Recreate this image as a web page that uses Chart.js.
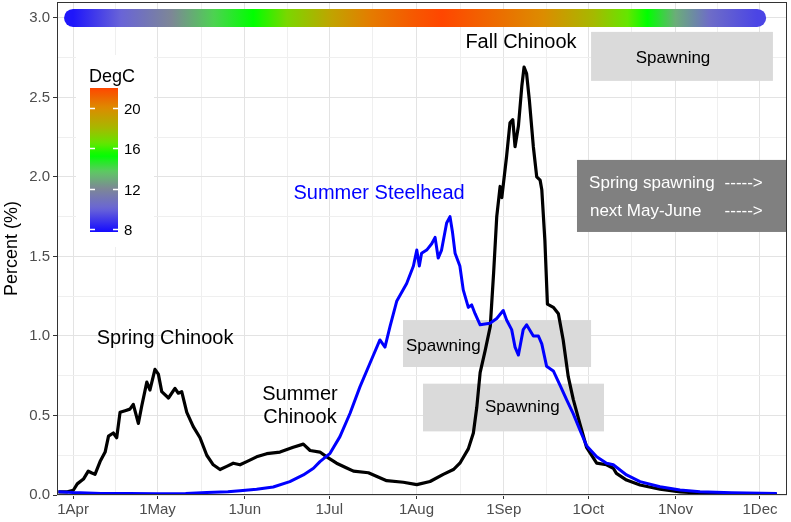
<!DOCTYPE html>
<html>
<head>
<meta charset="utf-8">
<script src="https://cdn.jsdelivr.net/npm/chart.js@4.4.0/dist/chart.umd.min.js"></script>
<style>
html,body{margin:0;padding:0;background:#ffffff;}
#wrap{width:791px;height:522px;}
</style>
</head>
<body>
<div id="wrap"><canvas id="c" width="791" height="522"></canvas></div>
<script>
// ---- tick labels (x = days since 1 April) ----
const monthDay   = [0, 30, 61, 91, 122, 153, 183, 214, 244];
const monthLabel = ['1Apr','1May','1Jun','1Jul','1Aug','1Sep','1Oct','1Nov','1Dec'];
const yTickValues = [0, 0.5, 1.0, 1.5, 2.0, 2.5, 3.0];

// ---- Chinook passage (%), black line ----
const chinookDay = [-5.2,-2,0.1,1.5,3.7,5.4,6.5,7.8,9.6,11.4,12.6,14.3,15.5,16.7,18.5,20.2,21.4,23.2,24.4,26.2,27.3,29.1,30.3,31.5,33.9,36.2,37.4,38.6,40.4,42.7,45.1,47.5,49.8,52.2,54.6,56.9,59.3,61.7,65.2,68.8,73.5,78.2,81.8,84.2,87.7,90.1,93.6,97.2,99.6,104.9,111.4,117.3,122.1,126.8,131.5,135.1,137.4,140.4,142.2,143.4,144.6,146.4,148.2,149.4,150.5,151.7,152.3,154,155.2,156.2,157,158.2,159.4,160.2,161.1,162.1,163.5,164.7,165.9,166.5,167.6,168.5,170.6,172.4,174.1,175.9,177.7,180,182.4,186,189.5,191.9,193,196.6,201.4,208.5,215.6,225,240,250];
const chinookPct = [0.02,0.02,0.03,0.07,0.10,0.15,0.14,0.13,0.21,0.27,0.37,0.39,0.36,0.52,0.53,0.54,0.57,0.45,0.56,0.71,0.66,0.79,0.76,0.65,0.61,0.67,0.64,0.65,0.52,0.43,0.36,0.25,0.19,0.16,0.18,0.20,0.19,0.21,0.24,0.26,0.27,0.30,0.32,0.28,0.27,0.24,0.20,0.17,0.15,0.14,0.09,0.08,0.065,0.085,0.13,0.16,0.20,0.29,0.39,0.55,0.77,0.91,1.06,1.40,1.75,1.94,1.87,2.13,2.34,2.36,2.19,2.32,2.57,2.69,2.65,2.48,2.19,2.00,1.98,1.92,1.60,1.20,1.18,1.14,0.975,0.744,0.60,0.45,0.30,0.20,0.19,0.168,0.136,0.094,0.063,0.036,0.02,0.01,0.005,0.003];

// ---- Summer Steelhead passage (%), blue line ----
const steelDay = [-5.2,0,10,20,30,40,47.5,55,59.3,65.2,71.1,77,81.8,85.4,87.7,91.3,94.8,98.4,101.9,105.5,109,110.8,112.6,115,118.5,120.9,122.1,123,123.8,125.6,127.4,128.6,129.7,130.9,132.7,133.9,134.8,135.7,137.4,138.6,140.4,141.6,142.8,144.6,148.1,150.5,152.8,154,155.8,157,158.2,159.9,161.1,163.5,165.3,166.5,168.2,170.6,173,175.3,177.7,180,182.4,186,189.5,191.9,196.6,201.4,208.5,215.6,222.7,234,250];
const steelPct = [0.02,0.015,0.01,0.01,0.008,0.01,0.015,0.02,0.027,0.036,0.05,0.084,0.126,0.168,0.21,0.262,0.367,0.514,0.68,0.83,0.975,0.93,1.06,1.22,1.33,1.44,1.54,1.44,1.52,1.54,1.58,1.62,1.49,1.54,1.71,1.75,1.65,1.52,1.44,1.29,1.18,1.195,1.14,1.07,1.08,1.11,1.16,1.10,1.04,0.93,0.88,1.04,1.07,1.0,1.0,0.95,0.81,0.78,0.69,0.60,0.51,0.41,0.31,0.24,0.20,0.19,0.126,0.084,0.052,0.031,0.02,0.014,0.01];

// ---- Water temperature (DegC) shown on the bar at y = 3.0 ----
const tempDay = [0,17,35,50,64,76,92,106,121,131,149,167,185,197,204,214,226,243];
const tempC   = [8,10,12,14,15.3,17,19,20.5,21.5,22,21,20,18,16.5,15.3,13,10.5,9.2];
const tempBarLevel = 3.0;
const legendTicks = [8,12,16,20];

// ---- colour scale (DegC -> colour) ----
const colourStops = [[7.7,[20,10,255]],[10,[105,100,215]],[12,[125,135,150]],[13.7,[95,200,100]],[15.3,[0,255,0]],[16.5,[100,230,0]],[18,[165,185,0]],[20,[220,140,0]],[22,[255,70,0]]];
function tcol(t){
  const s = colourStops;
  if (t <= s[0][0]) return 'rgb('+s[0][1].join(',')+')';
  for (let i=1;i<s.length;i++){
    if (t <= s[i][0]) {
      const f = (t - s[i-1][0])/(s[i][0]-s[i-1][0]);
      const c = s[i-1][1].map((v,k)=>Math.round(v + (s[i][1][k]-v)*f));
      return 'rgb('+c.join(',')+')';
    }
  }
  return 'rgb('+s[s.length-1][1].join(',')+')';
}

const FONT = '"Liberation Sans", Arial, sans-serif';
const minorDay = monthDay.slice(0,-1).map((d,i)=>(d+monthDay[i+1])/2);
const xTicks = monthDay.concat(minorDay).sort((a,b)=>a-b);
const yTicks = [];
for (let v=0; v<=3.0001; v+=0.25) yTicks.push(Math.round(v*100)/100);
const isMajorX = v => monthDay.indexOf(v) >= 0;
const isMajorY = v => yTickValues.some(t=>Math.abs(t-v)<1e-6);

// annotation rectangles in data units
const spawnBoxes = [
  {d0:184, d1:248.6, v0:2.604, v1:2.912},
  {d0:117.2, d1:184, v0:0.805, v1:1.10},
  {d0:124.3, d1:188.6, v0:0.40, v1:0.70}
];
const darkBox = {d0:179, d1:260, v0:1.654, v1:2.107};

const annotPlugin = {
  id:'annot',
  beforeDatasetsDraw(chart){
    const {ctx, chartArea:a} = chart;
    const xs = chart.scales.x, ys = chart.scales.y;
    ctx.save();
    ctx.beginPath(); ctx.rect(a.left, a.top, a.right-a.left, a.bottom-a.top); ctx.clip();
    ctx.fillStyle = '#dadada';
    spawnBoxes.forEach(b=>{
      const x0=xs.getPixelForValue(b.d0), x1=xs.getPixelForValue(b.d1);
      const y0=ys.getPixelForValue(b.v1), y1=ys.getPixelForValue(b.v0);
      ctx.fillRect(x0,y0,x1-x0,y1-y0);
    });
    ctx.fillStyle = '#808080';
    {
      const b = darkBox;
      const x0=xs.getPixelForValue(b.d0), x1=xs.getPixelForValue(b.d1);
      const y0=ys.getPixelForValue(b.v1), y1=ys.getPixelForValue(b.v0);
      ctx.fillRect(x0,y0,x1-x0,y1-y0);
    }
    // legend
    const L = a.left, T = a.top;
    ctx.fillStyle = '#ffffff';
    ctx.fillRect(L+19, T+53, 78, 192);
    ctx.restore();
  },
  afterDatasetsDraw(chart){
    const {ctx, chartArea:a} = chart;
    const xs = chart.scales.x, ys = chart.scales.y;
    const X = v=>xs.getPixelForValue(v), Y = v=>ys.getPixelForValue(v);
    ctx.save();
    ctx.textBaseline = 'middle';
    function txt(s, d, v, size, color, align){
      ctx.font = size+'px '+FONT; ctx.fillStyle = color; ctx.textAlign = align||'center';
      ctx.fillText(s, X(d), Y(v));
    }
    txt('Spring Chinook', 32.7, 0.987, 20, '#000');
    txt('Summer', 80.6, 0.629, 20, '#000');
    txt('Chinook', 80.6, 0.49, 20, '#000');
    txt('Summer Steelhead', 108.7, 1.899, 20, '#0000ff');
    txt('Fall Chinook', 159.1, 2.843, 20, '#000');
    txt('Spawning', 213.1, 2.748, 17, '#000');
    txt('Spawning', 131.5, 0.937, 17, '#000');
    txt('Spawning', 159.6, 0.553, 17, '#000');
    txt('Spring spawning', 183.3, 1.962, 17, '#ffffff', 'left');
    txt('----->', 245, 1.962, 17, '#ffffff', 'right');
    txt('next May-June', 183.6, 1.786, 17, '#ffffff', 'left');
    txt('----->', 245, 1.786, 17, '#ffffff', 'right');

    // colour bar legend
    const L = a.left, T = a.top;
    const bx0 = L+33, bx1 = L+61, by0 = T+86, by1 = T+230;
    const tTop = 22, tBot = 7.7;
    const tY = t => by0 + (tTop - t)/(tTop - tBot)*(by1-by0);
    const g = ctx.createLinearGradient(0, by1, 0, by0);
    for (let k=0;k<=40;k++){
      const t = tBot + (tTop-tBot)*k/40;
      g.addColorStop(k/40, tcol(t));
    }
    ctx.fillStyle = g;
    ctx.fillRect(bx0, by0, bx1-bx0, by1-by0);
    ctx.strokeStyle = '#ffffff'; ctx.lineWidth = 1.5;
    legendTicks.forEach(t=>{
      const y = Math.round(tY(t))+0.5;
      ctx.beginPath(); ctx.moveTo(bx0, y); ctx.lineTo(bx0+5, y); ctx.stroke();
      ctx.beginPath(); ctx.moveTo(bx1-5, y); ctx.lineTo(bx1, y); ctx.stroke();
      ctx.font = '15px '+FONT; ctx.fillStyle='#000'; ctx.textAlign='left';
      ctx.fillText(String(t), bx1+6, y+1);
    });
    ctx.font = '18px '+FONT; ctx.fillStyle='#000'; ctx.textAlign='left';
    ctx.fillText('DegC', bx0-1, T+75);
    ctx.restore();
  },
  afterDraw(chart){
    const {ctx, chartArea:a} = chart;
    ctx.save();
    ctx.strokeStyle = '#333333'; ctx.lineWidth = 1;
    ctx.strokeRect(a.left+0.5, a.top+0.5, a.right-a.left-1, a.bottom-a.top-1);
    ctx.restore();
  }
};

new Chart(document.getElementById('c'), {
  type: 'line',
  data: {
    datasets: [
      {
        label: 'Summer Steelhead',
        data: steelDay.map((d,i)=>({x:d, y:steelPct[i]})),
        borderColor: '#0000ff', borderWidth: 3, pointRadius: 0, tension: 0,
        borderJoinStyle: 'round', order: 0
      },
      {
        label: 'Chinook',
        data: chinookDay.map((d,i)=>({x:d, y:chinookPct[i]})),
        borderColor: '#000000', borderWidth: 3.2, pointRadius: 0, tension: 0,
        borderJoinStyle: 'round', order: 1
      },
      {
        label: 'Temperature',
        data: tempDay.map(d=>({x:d, y:tempBarLevel})),
        borderWidth: 18, borderCapStyle: 'round', borderJoinStyle: 'round',
        pointRadius: 0, tension: 0, order: 2, clip: 20,
        borderColor: (ctx)=>{
          const chart = ctx.chart; const xs = chart.scales && chart.scales.x;
          if (!chart.chartArea || !xs) return '#888888';
          const p0 = xs.getPixelForValue(tempDay[0]);
          const p1 = xs.getPixelForValue(tempDay[tempDay.length-1]);
          if (!isFinite(p0) || !isFinite(p1) || p1 <= p0) return '#888888';
          const g = chart.ctx.createLinearGradient(p0,0,p1,0);
          tempDay.forEach((d,i)=>{
            g.addColorStop(Math.min(1,Math.max(0,(xs.getPixelForValue(d)-p0)/(p1-p0))), tcol(tempC[i]));
          });
          return g;
        }
      }
    ]
  },
  options: {
    responsive: false, animation: false, devicePixelRatio: 1,
    layout: { padding: { top: 2, right: 4, bottom: 0, left: 0 } },
    plugins: { legend: { display: false }, tooltip: { enabled: false } },
    scales: {
      x: {
        type: 'linear', min: -5.7, max: 253.6,
        afterBuildTicks: s => { s.ticks = xTicks.map(v=>({value:v})); },
        afterFit: s => { s.height = 27; s.paddingLeft = 0; s.paddingRight = 0; },
        ticks: {
          autoSkip: false, maxRotation: 0, minRotation: 0, padding: 2,
          color: '#4d4d4d', font: { family: FONT, size: 15 },
          callback: v => { const i = monthDay.indexOf(v); return i>=0 ? monthLabel[i] : ''; }
        },
        grid: {
          color: c => (c.tick && isMajorX(c.tick.value)) ? '#e3e3e3' : '#efefef',
          lineWidth: 1,
          tickColor: c => (c.tick && isMajorX(c.tick.value)) ? '#333333' : 'rgba(0,0,0,0)',
          tickLength: 4, drawTicks: true
        },
        border: { display: false }
      },
      y: {
        type: 'linear', min: 0, max: 3.1,
        afterBuildTicks: s => { s.ticks = yTicks.map(v=>({value:v})); },
        afterFit: s => { s.width = 57; s.paddingTop = 0; s.paddingBottom = 0; },
        ticks: {
          autoSkip: false, padding: 3,
          color: '#4d4d4d', font: { family: FONT, size: 15 },
          callback: v => isMajorY(v) ? Number(v).toFixed(1) : ''
        },
        grid: {
          color: c => (c.tick && isMajorY(c.tick.value)) ? '#e3e3e3' : '#efefef',
          lineWidth: 1,
          tickColor: c => (c.tick && isMajorY(c.tick.value)) ? '#333333' : 'rgba(0,0,0,0)',
          tickLength: 4, drawTicks: true
        },
        border: { display: false },
        title: { display: true, text: 'Percent (%)', color: '#000', font: { family: FONT, size: 18 }, padding: { top: 1, bottom: 0 } }
      }
    }
  },
  plugins: [annotPlugin]
});
</script>
</body>
</html>
